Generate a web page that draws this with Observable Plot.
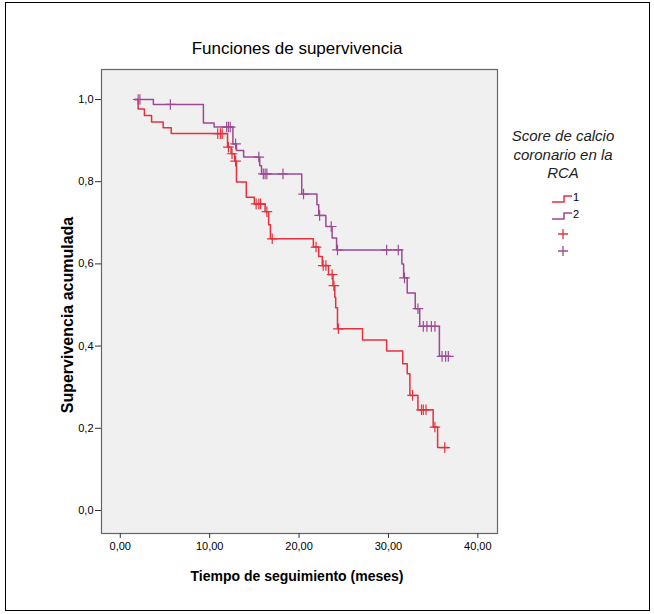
<!DOCTYPE html>
<html><head><meta charset="utf-8">
<script src="https://cdn.jsdelivr.net/npm/d3@7"></script>
<script src="https://cdn.jsdelivr.net/npm/@observablehq/plot@0.6"></script>
<style>
body{margin:0;background:#fff;}
#wrap{position:relative;width:654px;height:614px;overflow:hidden;font-family:"Liberation Sans",Arial,sans-serif;color:#000;}
#border{position:absolute;left:5px;top:2px;width:645px;height:609px;border:1px solid #000;box-sizing:border-box;}
#chart{position:absolute;left:0;top:0;}
#title{position:absolute;left:0;width:594px;top:39px;text-align:center;font-size:17px;}
#xtitle{position:absolute;left:0;width:594px;top:568px;text-align:center;font-size:14px;font-weight:bold;}
#ytitle{position:absolute;left:-82px;top:306px;width:300px;height:18px;text-align:center;font-size:16px;font-weight:bold;transform:rotate(-90deg);transform-origin:150px 9px;line-height:18px;}
#legtitle{position:absolute;left:493px;width:140px;top:127px;text-align:center;font-size:15px;font-style:italic;color:#222;line-height:18.5px;}
#legend{position:absolute;left:542px;top:190px;}
</style>
</head><body>
<div id="wrap">
  <div id="chart"></div>
  <div id="title">Funciones de supervivencia</div>
  <div id="ytitle">Supervivencia acumulada</div>
  <div id="xtitle">Tiempo de seguimiento (meses)</div>
  <div id="legtitle">Score de calcio<br>coronario en la<br>RCA</div>
  <div id="legend"></div>
  <div id="border"></div>
</div>
<script>
const groups = ["1", "2"];
const colors = ["#e6303d", "#9e4a93"];
const xTicks = [0, 10, 20, 30, 40];
const yTicks = [0, 0.2, 0.4, 0.6, 0.8, 1.0];

// Group 1 (red): step times and survival after each step
const times1 = [1.6, 2.0, 2.7, 3.5, 4.8, 5.7, 12.0, 12.4, 12.8, 13.0, 14.1, 15.0, 16.2, 16.6, 16.8, 21.6, 22.2, 22.6, 23.3, 23.8, 24.0, 24.1, 24.3, 27.1, 29.8, 31.6, 32.1, 32.4, 33.3, 35.0, 35.5, 36.7];
const surv1  = [1.0, 0.977, 0.961, 0.945, 0.931, 0.917, 0.884, 0.868, 0.850, 0.799, 0.762, 0.746, 0.727, 0.695, 0.661, 0.641, 0.618, 0.596, 0.574, 0.547, 0.519, 0.493, 0.442, 0.415, 0.388, 0.357, 0.333, 0.280, 0.245, 0.203, 0.153, 0.153];
const censor1 = [10.9, 11.2, 11.4, 12.1, 12.5, 12.9, 15.2, 15.5, 15.7, 16.4, 17.0, 21.9, 22.7, 23.0, 23.7, 23.9, 24.4, 32.7, 33.7, 33.9, 34.2, 35.2, 36.3];

// Group 2 (purple)
const times2 = [1.6, 3.7, 9.3, 10.5, 12.6, 13.0, 13.8, 15.6, 15.8, 20.3, 22.0, 22.2, 23.0, 23.7, 24.2, 31.5, 31.7, 32.1, 33.0, 33.5, 35.7, 36.7];
const surv2  = [1.0, 0.988, 0.943, 0.933, 0.892, 0.876, 0.860, 0.839, 0.819, 0.770, 0.744, 0.718, 0.691, 0.663, 0.634, 0.600, 0.566, 0.529, 0.491, 0.448, 0.375, 0.375];
const censor2 = [2.0, 2.2, 5.6, 11.9, 12.1, 12.3, 12.9, 15.5, 16.0, 16.2, 16.4, 18.2, 20.5, 22.3, 23.6, 24.3, 29.8, 31.1, 31.8, 33.3, 33.9, 34.3, 34.8, 35.2, 36.0, 36.4, 36.7];

function stepRows(times, surv, g) {
  return times.map((t, i) => ({t, s: surv[i], g}));
}
function censorRows(cens, times, surv, g) {
  return cens.map(c => {
    let s = surv[0];
    for (let i = 0; i < times.length; i++) if (times[i] <= c) s = surv[i];
    return {t: c, s, g};
  });
}
const steps = [...stepRows(times1, surv1, groups[0]), ...stepRows(times2, surv2, groups[1])];
const cens = [...censorRows(censor1, times1, surv1, groups[0]), ...censorRows(censor2, times2, surv2, groups[1])];

const comma = (f) => (d) => d3.format(f)(d).replace(".", ",");

const chart = Plot.plot({
  width: 654, height: 614,
  marginLeft: 101, marginRight: 157, marginTop: 69, marginBottom: 81,
  style: {fontFamily: "Liberation Sans, Arial, sans-serif", fontSize: "11px", background: "transparent", color: "#000"},
  x: {domain: [-2.1, 42.2]},
  y: {domain: [-0.056, 1.073]},
  color: {domain: groups, range: colors},
  marks: [
    Plot.frame({fill: "#f0f0f0", stroke: null}),
    Plot.line(steps, {x: "t", y: "s", z: "g", stroke: "g", curve: "step-after", strokeWidth: 1.5}),
    Plot.dot(cens, {x: "t", y: "s", stroke: "g", symbol: "plus", r: 3.5, strokeWidth: 1.2}),
    Plot.frame({stroke: "#666", strokeWidth: 1.2}),
    Plot.axisX({ticks: xTicks, tickFormat: comma(".2f"), tickSize: 5, tickPadding: 4, label: null, stroke: "#333"}),
    Plot.axisY({ticks: yTicks, tickFormat: comma(".1f"), tickSize: 6, tickPadding: 2, label: null, stroke: "#333"})
  ]
});
document.getElementById("chart").appendChild(chart);

// Legend
const leg = d3.select("#legend").append("svg").attr("width", 60).attr("height", 72)
  .style("font-family", "Liberation Sans, Arial, sans-serif").style("font-size", "11px");
groups.forEach((g, i) => {
  const y = 12 + i * 17;
  leg.append("path").attr("d", `M10,${y} H22 V${y - 6} H30`).attr("fill", "none")
    .attr("stroke", colors[i]).attr("stroke-width", 1.5);
  leg.append("text").attr("x", 31).attr("y", y - 1).text(g);
});
groups.forEach((g, i) => {
  const y = 44 + i * 17;
  leg.append("path").attr("d", `M16,${y} H26 M21,${y - 5} V${y + 5}`).attr("fill", "none")
    .attr("stroke", colors[i]).attr("stroke-width", 1.3);
});
</script>
</body></html>
